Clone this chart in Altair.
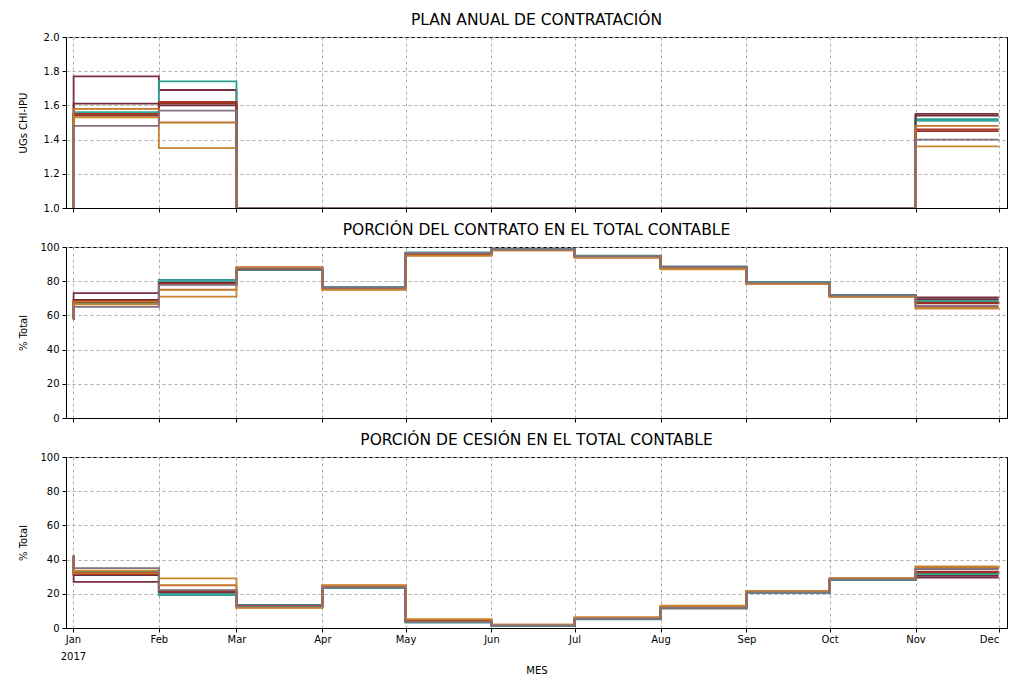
import altair as alt
import pandas as pd

# Time stamps: a first instant, then the monthly values (steps-post)
fechas = ["2017-01-01T00:00:00", "2017-01-01T06:00:00", "2017-02-01T00:00:00",
          "2017-03-01T00:00:00", "2017-04-01T00:00:00", "2017-05-01T00:00:00",
          "2017-06-01T00:00:00", "2017-07-01T00:00:00", "2017-08-01T00:00:00",
          "2017-09-01T00:00:00", "2017-10-01T00:00:00", "2017-11-01T00:00:00",
          "2017-12-01T00:00:00"]

series = ["A", "B", "I", "F", "C", "H", "D", "G", "E"]
colores = ["#7a2e3f", "#2a9d8f", "#35a99b", "#6b2b3b", "#a53320",
           "#962f25", "#c27428", "#c98430", "#85707f"]

# Panel 1: UGs CHI-IPU
ug = {
    "A": [1.0, 1.77, 1.69, 1.0, 1.0, 1.0, 1.0, 1.0, 1.0, 1.0, 1.0, 1.55, 1.55],
    "B": [1.0, 1.55, 1.74, 1.0, 1.0, 1.0, 1.0, 1.0, 1.0, 1.0, 1.0, 1.52, 1.52],
    "I": [1.0, 1.56, 1.62, 1.0, 1.0, 1.0, 1.0, 1.0, 1.0, 1.0, 1.0, 1.51, 1.51],
    "F": [1.0, 1.61, 1.60, 1.0, 1.0, 1.0, 1.0, 1.0, 1.0, 1.0, 1.0, 1.54, 1.54],
    "C": [1.0, 1.55, 1.62, 1.0, 1.0, 1.0, 1.0, 1.0, 1.0, 1.0, 1.0, 1.46, 1.46],
    "H": [1.0, 1.54, 1.61, 1.0, 1.0, 1.0, 1.0, 1.0, 1.0, 1.0, 1.0, 1.45, 1.45],
    "D": [1.0, 1.58, 1.50, 1.0, 1.0, 1.0, 1.0, 1.0, 1.0, 1.0, 1.0, 1.48, 1.48],
    "G": [1.0, 1.53, 1.35, 1.0, 1.0, 1.0, 1.0, 1.0, 1.0, 1.0, 1.0, 1.36, 1.36],
    "E": [1.0, 1.48, 1.57, 1.0, 1.0, 1.0, 1.0, 1.0, 1.0, 1.0, 1.0, 1.40, 1.40],
}

# Panel 2: % contrato
contrato = {
    "A": [58, 73.0, 79.5, 87.5, 76.5, 96.5, 98.5, 94.5, 88.5, 79.5, 72.0, 70.5, 70.5],
    "B": [58, 67.0, 80.8, 86.5, 76.5, 96.8, 98.8, 95.0, 88.5, 79.5, 72.0, 68.0, 68.0],
    "I": [58, 67.5, 80.2, 86.8, 76.2, 96.5, 98.6, 94.8, 88.3, 79.3, 71.8, 68.5, 68.5],
    "F": [58, 69.0, 78.8, 87.2, 76.0, 96.0, 98.3, 94.4, 88.0, 79.0, 71.5, 69.5, 69.5],
    "C": [58, 67.8, 78.2, 87.0, 75.5, 95.2, 98.2, 94.0, 87.5, 78.6, 71.0, 67.0, 67.0],
    "H": [58, 68.5, 78.5, 87.3, 75.8, 95.5, 98.4, 94.2, 87.8, 78.8, 71.3, 67.5, 67.5],
    "D": [58, 68.0, 75.0, 88.0, 75.2, 95.0, 98.0, 94.0, 87.2, 78.5, 71.0, 64.5, 64.5],
    "G": [58, 66.5, 71.0, 88.2, 75.0, 95.0, 98.0, 93.8, 87.0, 78.4, 70.8, 64.0, 64.0],
    "E": [58, 65.0, 77.8, 87.4, 76.3, 96.5, 98.5, 94.6, 88.2, 79.2, 71.6, 65.5, 65.5],
}

# Panel 3: % cesión
cesion = {
    "A": [42, 27.0, 20.5, 12.5, 23.5, 3.5, 1.5, 5.5, 11.5, 20.5, 28.0, 29.5, 29.5],
    "B": [42, 33.0, 19.2, 13.5, 23.5, 3.2, 1.2, 5.0, 11.5, 20.5, 28.0, 32.0, 32.0],
    "I": [42, 32.5, 19.8, 13.2, 23.8, 3.5, 1.4, 5.2, 11.7, 20.7, 28.2, 31.5, 31.5],
    "F": [42, 31.0, 21.2, 12.8, 24.0, 4.0, 1.7, 5.6, 12.0, 21.0, 28.5, 30.5, 30.5],
    "C": [42, 32.2, 21.8, 13.0, 24.5, 4.8, 1.8, 6.0, 12.5, 21.4, 29.0, 33.0, 33.0],
    "H": [42, 31.5, 21.5, 12.7, 24.2, 4.5, 1.6, 5.8, 12.2, 21.2, 28.7, 32.5, 32.5],
    "D": [42, 32.0, 25.0, 12.0, 24.8, 5.0, 2.0, 6.0, 12.8, 21.5, 29.0, 35.5, 35.5],
    "G": [42, 33.5, 29.0, 11.8, 25.0, 5.0, 2.0, 6.2, 13.0, 21.6, 29.2, 36.0, 36.0],
    "E": [42, 35.0, 22.2, 12.6, 23.7, 3.5, 1.5, 5.4, 11.8, 20.8, 28.4, 34.5, 34.5],
}

filas = []
for s in series:
    for i, f in enumerate(fechas):
        filas.append({"fecha": f, "serie": s, "ug": ug[s][i],
                      "contrato": contrato[s][i], "cesion": cesion[s][i]})
df = pd.DataFrame(filas)

x_dom = [alt.DateTime(year=2016, month=12, date=29, hours=12),
         alt.DateTime(year=2017, month=12, date=4)]
x_ticks = [alt.DateTime(year=2017, month=m, date=1) for m in range(1, 13)]

W, H = 941, 171


def panel(campo, titulo, ytitulo, ydom, yvals, yfmt, abajo):
    if abajo:
        xaxis = alt.Axis(values=x_ticks, title="MES", grid=True,
                         labelExpr="month(datum.value) == 0 ? [timeFormat(datum.value, '%b'), timeFormat(datum.value, '%Y')] : timeFormat(datum.value, '%b')",
                         labelAlign=alt.condition("month(datum.value) == 11", alt.value("right"), alt.value("center")),
                         labelLineHeight=17, labelPadding=2, titlePadding=4)
    else:
        xaxis = alt.Axis(values=x_ticks, title=None, labels=False, grid=True)
    return alt.Chart(df, title=titulo).mark_line(
        interpolate="step-after", strokeWidth=1.8, clip=True
    ).encode(
        x=alt.X("fecha:T", scale=alt.Scale(domain=x_dom), axis=xaxis),
        y=alt.Y(f"{campo}:Q", scale=alt.Scale(domain=ydom, nice=False, zero=False),
                axis=alt.Axis(values=yvals, format=yfmt, title=ytitulo, grid=True)),
        color=alt.Color("serie:N", scale=alt.Scale(domain=series, range=colores), legend=None),
    ).properties(width=W, height=H)


p1 = panel("ug", "PLAN ANUAL DE CONTRATACIÓN", "UGs CHI-IPU", [1.0, 2.0],
           [1.0, 1.2, 1.4, 1.6, 1.8, 2.0], ".1f", False)
p2 = panel("contrato", "PORCIÓN DEL CONTRATO EN EL TOTAL CONTABLE", "% Total", [0, 100],
           [0, 20, 40, 60, 80, 100], "d", False)
p3 = panel("cesion", "PORCIÓN DE CESIÓN EN EL TOTAL CONTABLE", "% Total", [0, 100],
           [0, 20, 40, 60, 80, 100], "d", True)

chart = alt.vconcat(p1, p2, p3, spacing=8).properties(
    padding={"left": 9, "top": 4, "right": 0, "bottom": 0}
).configure_view(
    stroke="black", strokeWidth=1
).configure_axis(
    gridDash=[3, 3], gridColor="#aaaaaa", gridWidth=1,
    domainColor="black", tickColor="black", tickSize=4,
    labelColor="black", labelFont="DejaVu Sans", labelFontSize=10,
    titleColor="black", titleFont="DejaVu Sans", titleFontSize=10,
    titleFontWeight="normal", labelPadding=3
).configure_axisY(
    minExtent=34, maxExtent=34, titlePadding=4
).configure_title(
    font="DejaVu Sans", fontSize=15.5, fontWeight="normal", color="black", offset=4
)

chart.save("out.html", embed_options={"renderer": "svg", "actions": False})
